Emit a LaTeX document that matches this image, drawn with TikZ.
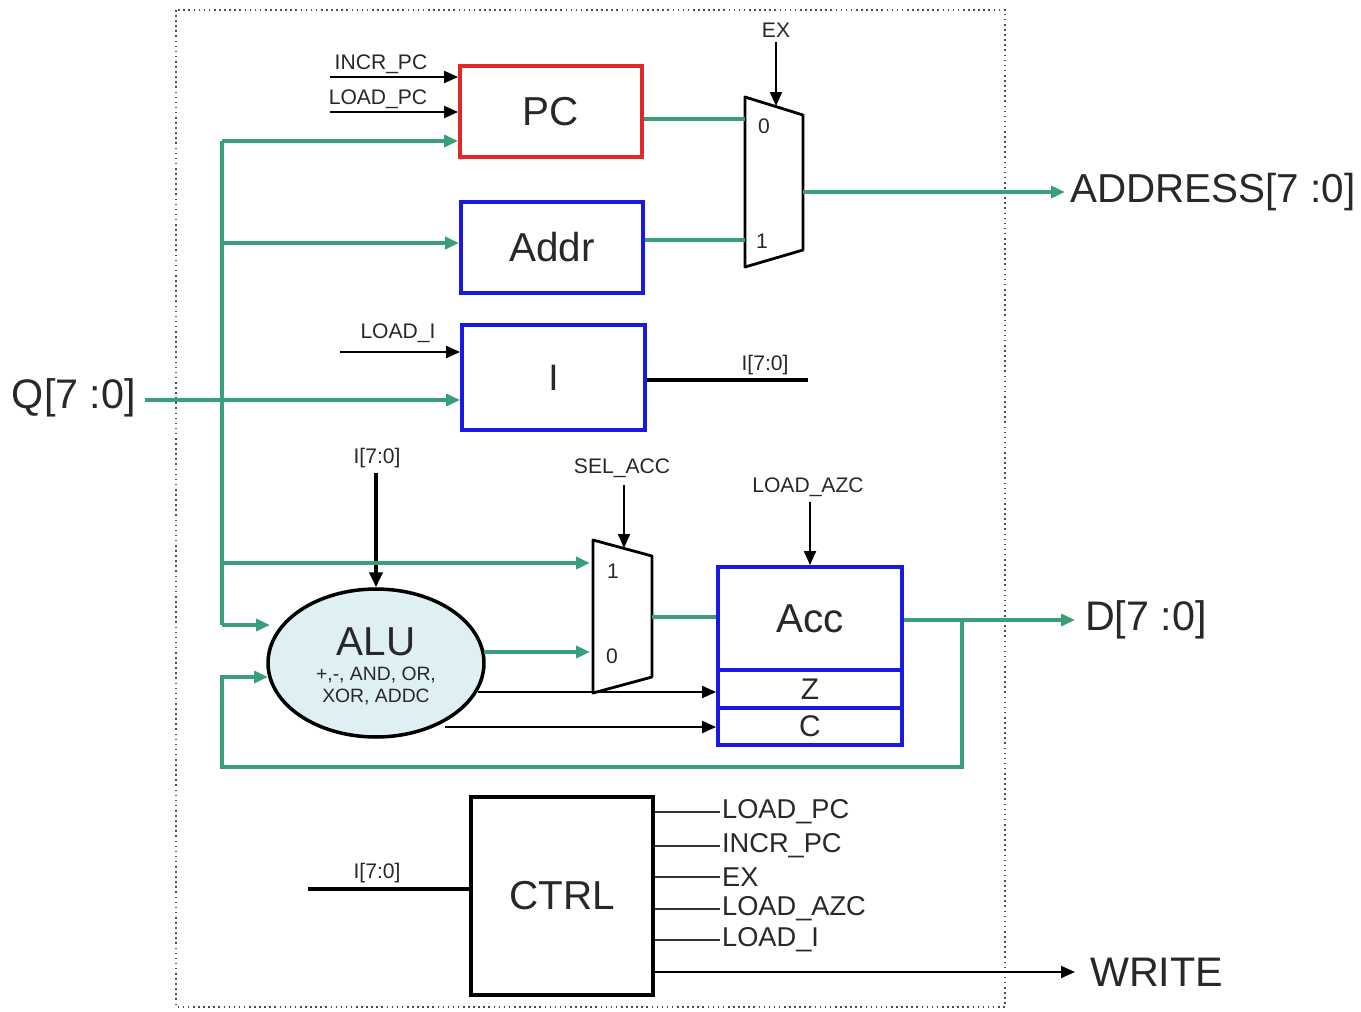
\documentclass[tikz,border=0pt]{standalone}
\usepackage{fontspec}
\setmainfont{Liberation Sans}
\usetikzlibrary{arrows.meta,shapes.geometric}
\definecolor{busgreen}{RGB}{58,158,118}
\definecolor{regred}{RGB}{225,40,40}
\definecolor{regblue}{RGB}{25,25,225}
\definecolor{alufill}{RGB}{222,240,244}
\definecolor{txt}{RGB}{40,40,40}
\tikzset{
  tip/.style={-{Triangle[length=0.28cm,width=0.24cm]}},
  bus/.style={draw=busgreen,line width=2.2pt},
  sig/.style={draw=black,line width=1.1pt},
  thicksig/.style={draw=black,line width=2.2pt},
  regbox/.style={draw,line width=2.2pt,fill=white,inner sep=0pt,text=txt},
  regfont/.style={font=\fontsize{23}{25}\selectfont},
  muxshape/.style={draw=black,line width=1.6pt,line join=round},
  small/.style={font=\fontsize{12}{13}\selectfont,text=txt,inner sep=1pt},
  mid/.style={font=\fontsize{15.5}{17}\selectfont,text=txt,inner sep=1pt},
  big/.style={font=\fontsize{23.5}{25}\selectfont,text=txt,inner sep=1pt},
}
\begin{document}
\begin{tikzpicture}[x=0.02cm,y=-0.02cm]
\useasboundingbox (0,0) rectangle (1361,1011);
\fill[white] (0,0) rectangle (1361,1011);
% frame
\draw[black!70,line width=0.9pt,dotted] (176,10) rectangle (1005,1007);

% registers
\node[regbox,regfont,draw=regred,minimum width=3.64cm,minimum height=1.82cm] (pc) at (551,111.5) {PC};
\node[regbox,regfont,draw=regblue,minimum width=3.64cm,minimum height=1.82cm] (addr) at (552,247.5) {Addr};
\node[regbox,draw=regblue,minimum width=3.66cm,minimum height=2.1cm,font=\fontsize{21}{23}\selectfont] (ireg) at (553.5,377.5) {I};
\node[regbox,regfont,draw=regblue,minimum width=3.68cm,minimum height=2.06cm] (acc) at (810,618.5) {Acc};
\node[regbox,draw=regblue,minimum width=3.68cm,minimum height=0.76cm,font=\fontsize{17}{18}\selectfont] (zf) at (810,689) {Z};
\node[regbox,draw=regblue,minimum width=3.68cm,minimum height=0.74cm,font=\fontsize{17}{18}\selectfont] (cf) at (810,726.5) {C};
\node[regbox,regfont,draw=black,minimum width=3.64cm,minimum height=3.96cm] (ctrl) at (562,896) {CTRL};
\node[ellipse,draw=black,line width=2pt,fill=alufill,inner sep=0pt,minimum width=4.32cm,minimum height=2.96cm] (alu) at (376,663) {};
\node[font=\fontsize{23}{25}\selectfont,text=txt,inner sep=0pt] (alut) at (376,642) {ALU};
\node[font=\fontsize{11}{12}\selectfont,text=txt,align=center,inner sep=0pt] (alus) at (376,686) {+,-, AND, OR,\\XOR, ADDC};

% mux 1 (EX)
\coordinate (m1a) at (745,97);
\coordinate (m1b) at (803,115);
\coordinate (m1c) at (803,250);
\coordinate (m1d) at (745,267);
\draw[muxshape] (m1a) -- (m1b) -- (m1c) -- (m1d) -- cycle;
\coordinate (m1in0) at (745,119);
\coordinate (m1in1) at (745,240);
\coordinate (m1out) at (803,192);
\coordinate (m1sel) at (776,106);
\node[small] (m1l0) at (764,126) {0};
\node[small] (m1l1) at (762,241) {1};

% mux 2 (SEL_ACC)
\coordinate (m2a) at (593,540);
\coordinate (m2b) at (652,556);
\coordinate (m2c) at (652,677);
\coordinate (m2d) at (593,693);
\draw[muxshape] (m2a) -- (m2b) -- (m2c) -- (m2d) -- cycle;
\coordinate (m2in1) at (590,563);
\coordinate (m2in0) at (590,652);
\coordinate (m2out) at (652,617);
\coordinate (m2sel) at (624,548);
\node[small] (m2l1) at (613,571) {1};
\node[small] (m2l0) at (612,656) {0};

% labels & free ends
\node[small] (lex) at (776,30) {EX};
\coordinate (exs) at (776,42);
\draw[sig,tip] (exs) -- (m1sel);

\node[small] (lincr) at (381,64) {INCR\_PC};
\coordinate (incrs) at (330,77);
\draw[sig,tip] (incrs) -- (incrs -| pc.west);
\node[small] (lload) at (378,99) {LOAD\_PC};
\coordinate (loads) at (330,112);
\draw[sig,tip] (loads) -- (loads -| pc.west);

\node[small] (lloadi) at (398,333) {LOAD\_I};
\coordinate (loadis) at (340,352);
\draw[sig,tip] (loadis) -- (loadis -| ireg.west);

\node[small] (liout) at (765,365) {I[7:0]};
\coordinate (iout) at (808,380);
\draw[thicksig] (ireg.east |- iout) -- (iout);

\node[small] (lialu) at (377,458) {I[7:0]};
\coordinate (ialus) at (376,473);
\draw[thicksig,-{Triangle[length=0.3cm,width=0.26cm]}] (ialus) -- (alu.north);

\node[small] (lsel) at (622,468) {SEL\_ACC};
\coordinate (sels) at (624,485);
\draw[sig,tip] (sels) -- (m2sel);

\node[small] (lazc) at (808,487) {LOAD\_AZC};
\coordinate (azcs) at (810,502);
\draw[sig,tip] (azcs) -- (acc.north);

% green buses
\coordinate (qin) at (145,400);
\node[big,anchor=east] (lq) at (138,398) {Q[7 :0]};
\coordinate (btop) at (222,141);
\coordinate (bbot) at (222,625);
\draw[bus] (btop) -- (bbot);
\draw[bus,tip] (btop) -- (btop -| pc.west);
\coordinate (baddr) at (222,243);
\draw[bus,tip] (baddr) -- (baddr -| addr.west);
\draw[bus,tip] (qin) -- (qin -| ireg.west);
\coordinate (bm2) at (222,563);
\draw[bus,tip] (bm2) -- (m2in1);
\coordinate (alua) at (270,625);
\draw[bus,tip] (bbot) -- (alua);

\draw[bus] (pc.east |- m1in0) -- (m1in0);
\draw[bus] (addr.east |- m1in1) -- (m1in1);
\coordinate (addrout) at (1065,192);
\draw[bus,tip] (m1out) -- (addrout);
\node[font=\fontsize{23}{25}\selectfont,text=txt,inner sep=1pt,anchor=west] (laddr) at (1068,192) {ADDRESS[7 :0]};

\coordinate (aluout) at (484,652);
\draw[bus,tip] (aluout) -- (m2in0);
\draw[bus] (m2out) -- (m2out -| acc.west);

\coordinate (dout) at (1075,620);
\coordinate (dsplit) at (962,620);
\draw[bus,tip] (acc.east |- dout) -- (dout);
\node[big,anchor=west] (ld) at (1083,620) {D[7 :0]};
\coordinate (fb1) at (962,767);
\coordinate (fb2) at (222,767);
\coordinate (fb3) at (222,677);
\coordinate (alub) at (268,677);
\draw[bus,tip] (dsplit) -- (fb1) -- (fb2) -- (fb3) -- (alub);

% ALU flags
\coordinate (aluz) at (478,692);
\coordinate (aluc) at (445,727);
\draw[sig,tip] (aluz) -- (aluz -| zf.west);
\draw[sig,tip] (aluc) -- (aluc -| cf.west);

% CTRL
\coordinate (cin) at (308,889);
\draw[thicksig] (cin) -- (cin -| ctrl.west);
\node[small] (lcin) at (377,873) {I[7:0]};
\foreach \yy/\nm/\tx in {812/o1/LOAD\_PC,846/o2/INCR\_PC,877/o3/EX,909/o4/LOAD\_AZC,940/o5/LOAD\_I}{
  \coordinate (\nm) at (720,\yy);
  \draw[draw=black!80,line width=0.8pt] (ctrl.east |- \nm) -- (\nm);
  \node[mid,anchor=west] (l\nm) at (720,\yy) {\tx};
}
\coordinate (wout) at (1075,972);
\draw[sig,tip] (ctrl.east |- wout) -- (wout);
\node[big,anchor=west] (lw) at (1088,972) {WRITE};
\end{tikzpicture}
\end{document}
